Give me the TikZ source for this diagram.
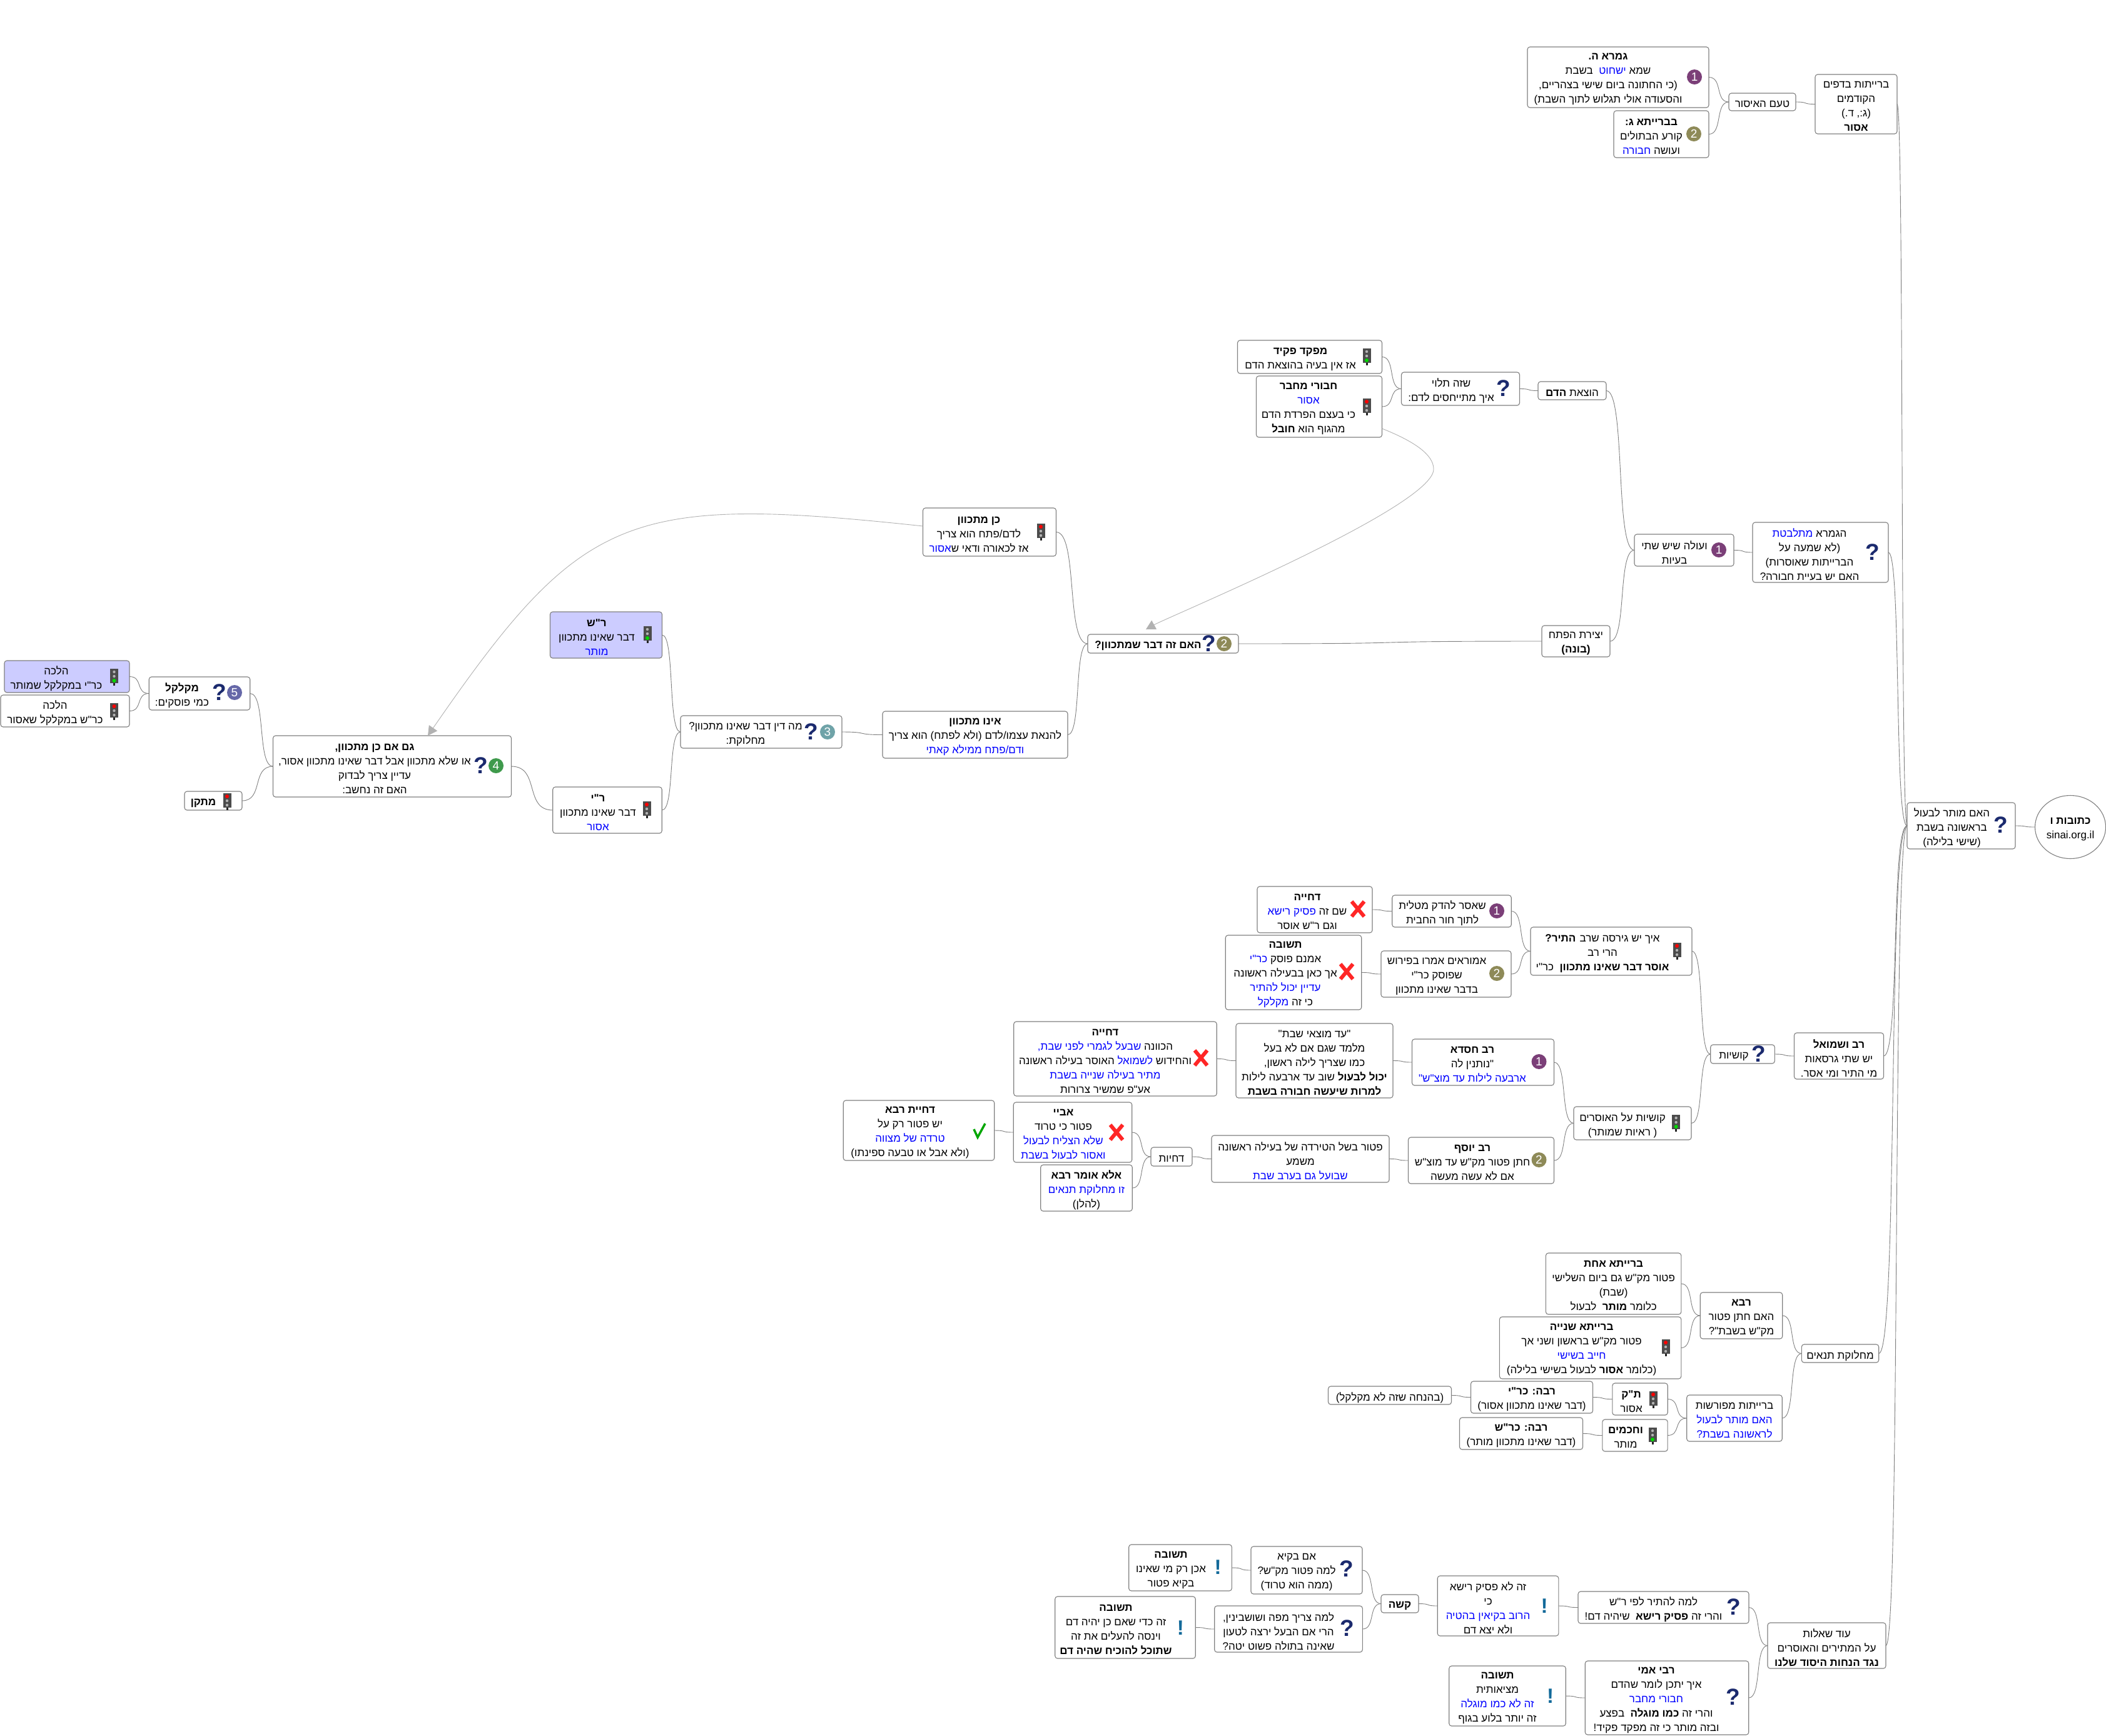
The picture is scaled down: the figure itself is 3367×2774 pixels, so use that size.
\documentclass[tikz,border=0pt]{standalone}
\usepackage{fontspec}
\usepackage{xcolor}
\setmainfont{Liberation Sans}
\newfontfamily\hebfont[Script=Hebrew]{Liberation Sans}
\TeXXeTstate=1
\usetikzlibrary{calc,positioning,shapes.geometric}
\usetikzlibrary{arrows.meta}
\newcommand{\rl}[1]{{\hebfont\beginR #1\endR}}
\newcommand{\rlb}[1]{{\bfseries\hebfont\beginR #1\endR}}
\newcommand{\rlc}[1]{\textcolor{blue}{\rl{#1}}}
\definecolor{discone}{HTML}{7B3F78}
\definecolor{disctwo}{HTML}{8E8A58}
\definecolor{discthree}{HTML}{6FA3A8}
\definecolor{discfour}{HTML}{3F9A4C}
\definecolor{discfive}{HTML}{6668A8}
\definecolor{signblue}{HTML}{1B2A6E}
\definecolor{halfill}{HTML}{CCCCFF}
\begin{document}
\begin{tikzpicture}[
        x=1pt, y=-1pt,
        mapbox/.style 2 args={rectangle, rounded corners=4pt, draw=black!50, line width=1.1pt, fill=white,
            minimum width=#1, minimum height=#2, inner sep=0pt, outer sep=0pt},
        maptext/.style={inner sep=0pt, align=center, yshift=-3.5, font=\fontsize{17}{23}\selectfont},
        rootbox/.style={ellipse, draw=black!50, line width=1.1pt, minimum width=113, minimum height=101,
            inner sep=0pt, outer sep=0pt},
        numdisc/.style={circle, fill=#1, minimum size=24, inner sep=0pt, text=white, font=\fontsize{19}{19}\selectfont},
        asksign/.style={inner sep=0pt, text=signblue, font=\fontsize{37}{37}\bfseries\selectfont},
        saysign/.style={inner sep=0pt, text=signblue!70!cyan, font=\fontsize{33}{33}\bfseries\selectfont},
        link/.style={black!50, line width=0.9pt, to path={let \p1=(\tikztostart), \p2=(\tikztotarget),
            \n1={0.7*(\x2-\x1)} in .. controls ({\x1+\n1},\y1) and ({\x2-\n1},\y2) .. (\p2) \tikztonodes}},
        crosslink/.style={black!30, line width=0.9pt, -{Triangle[length=15pt,width=16pt]}},
        lightred/.pic={
            \fill[black!70] (-6.5,-12) rectangle (6.5,11);
            \fill[black!85] (-1.5,11) rectangle (1.5,15);
            \fill[red] (0,-7) circle (3);
            \fill[black!30] (0,0) circle (2.2);
            \fill[black!30] (0,7) circle (2.2);
        },
        lightgreen/.pic={
            \fill[black!70] (-6.5,-12) rectangle (6.5,11);
            \fill[black!85] (-1.5,11) rectangle (1.5,15);
            \fill[black!30] (0,-7) circle (2.2);
            \fill[black!30] (0,0) circle (2.2);
            \fill[green!85!black] (0,7) circle (3);
        },
        wrongmark/.pic={
            \draw[red!85!white, line width=6pt] (-10,-12) -- (10,12);
            \draw[red!85!white, line width=6pt] (10,-12) -- (-10,12);
        },
        rightmark/.pic={
            \draw[green!65!black, line width=3.5pt] (-9,-2) -- (-3,11) -- (9,-11);
        }
    ]
    \useasboundingbox (0,0) rectangle (3367,2774);

    \node (root) [rootbox] at (3310,1322) {};
    \node (roottext) [maptext] at (root) {\rlb{כתובות ו}\\ sinai.org.il};
    \node (hamutar) [mapbox={173}{74}] at (3135.5,1320) {};
    \node (hamutartext) [maptext, xshift=-15] at (hamutar) {\rl{האם מותר לבעול}\\ \rl{בראשונה בשבת}\\ \rl{(שישי בלילה)}};
    \node (hamutarsign) [asksign] at (3199,1319) {?};

    \node (gemara) [mapbox={290}{97}] at (2587,123.5) {};
    \node (gemaratext) [maptext, xshift=-16] at (gemara) {\rlb{גמרא ה.}\\ \rl{בשבת}\ \ \rlc{ישחוט} \rl{שמא}\\ \rl{(כי החתונה ביום שישי בצהריים,}\\ \rl{והסעודה אולי תגלוש לתוך השבת)}};
    \node (gemaradisc) [numdisc=discone] at (2709,123) {1};
    \node (braitag) [mapbox={152}{75}] at (2656,214.5) {};
    \node (braitagtext) [maptext, xshift=-16] at (braitag) {\rlb{בברייתא ג:}\\ \rl{קורע הבתולים}\\ \rlc{חבורה} \rl{ועושה}};
    \node (braitagdisc) [numdisc=disctwo] at (2708,214) {2};
    \node (taam) [mapbox={107}{28}] at (2817.5,163) {};
    \node (taamtext) [maptext] at (taam) {\rl{טעם האיסור}};
    \node (braitot) [mapbox={131}{95}] at (2967.5,166.5) {};
    \node (braitottext) [maptext] at (braitot) {\rl{ברייתות בדפים}\\ \rl{הקודמים}\\ \rl{(ג:, ד.)}\\ \rlb{אסור}};

    \node (mafked) [mapbox={231}{53}] at (2094,570.5) {};
    \node (mafkedtext) [maptext, xshift=-15] at (mafked) {\rlb{מפקד פקיד}\\ \rl{אז אין בעיה בהוצאת הדם}};
    \pic at (2185,569) {lightgreen};
    \node (chavurei) [mapbox={201}{98}] at (2109,650) {};
    \node (chavureitext) [maptext, xshift=-17] at (chavurei) {\rlb{חבורי מחבר}\\ \rlc{אסור}\\ \rl{כי בעצם הפרדת הדם}\\ \rlb{חובל} \rl{מהגוף הוא}};
    \pic at (2185,649) {lightred};
    \coordinate (chavureiout) at (2209.5,685);
    \node (sheze) [mapbox={189}{53}] at (2335,621.5) {};
    \node (shezetext) [maptext, xshift=-15] at (sheze) {\rl{שזה תלוי}\\ \rl{איך מתייחסים לדם:}};
    \node (shezesign) [asksign] at (2404,621) {?};
    \node (hotzaat) [mapbox={109}{29}] at (2513.5,624.5) {};
    \node (hotzaattext) [maptext] at (hotzaat) {\rlb{הדם} \rl{הוצאת}};
    \node (yetzirat) [mapbox={109}{50}] at (2519.5,1025) {};
    \node (yetzirattext) [maptext] at (yetzirat) {\rl{יצירת הפתח}\\ \rlb{(בונה)}};
    \node (veola) [mapbox={159}{51}] at (2692.5,879.5) {};
    \node (veolatext) [maptext, xshift=-15.5] at (veola) {\rl{ועולה שיש שתי}\\ \rl{בעיות}};
    \node (veoladisc) [numdisc=discone] at (2748,879) {1};
    \node (mitlabetet) [mapbox={217}{96}] at (2910.5,883) {};
    \node (mitlabetettext) [maptext, xshift=-17.5] at (mitlabetet) {\rlc{מתלבטת} \rl{הגמרא}\\ \rl{(לא שמעה על}\\ \rl{הברייתות שאוסרות)}\\ \rl{האם יש בעיית חבורה?}};
    \node (mitlabetetsign) [asksign] at (2994,883) {?};

    \node (haim) [mapbox={241}{30}] at (1859.5,1029) {};
    \node (haimtext) [maptext, xshift=-24] at (haim) {\rlb{האם זה דבר שמתכוון?}};
    \node (haimsign) [asksign] at (1933,1029) {?};
    \node (haimdisc) [numdisc=disctwo] at (1957,1029) {2};
    \coordinate (haimin) at (1832,1006);
    \node (ken) [mapbox={213}{77}] at (1582,850.5) {};
    \node (kentext) [maptext, xshift=-17] at (ken) {\rlb{כן מתכוון}\\ \rl{לדם/פתח הוא צריך}\\ \rlc{אסור}\rl{אז לכאורה ודאי ש}};
    \pic at (1664,849) {lightred};
    \coordinate (kenout) at (1475.5,841);
    \node (eino) [mapbox={296}{75}] at (1559,1174.5) {};
    \node (einotext) [maptext] at (eino) {\rlb{אינו מתכוון}\\ \rl{להנאת עצמו/לדם (ולא לפתח) הוא צריך}\\ \rlc{ודם/פתח ממילא קאתי}};
    \node (mahdin) [mapbox={258}{52}] at (1217,1170) {};
    \node (mahdintext) [maptext, xshift=-25] at (mahdin) {\rl{מה דין דבר שאינו מתכוון?}\\ \rl{מחלוקת:}};
    \node (mahdinsign) [asksign] at (1297,1170) {?};
    \node (mahdindisc) [numdisc=discthree] at (1323,1170) {3};
    \node (rash) [mapbox={179}{74}, fill=halfill] at (969,1015) {};
    \node (rashtext) [maptext, xshift=-15] at (rash) {\rlb{ר"ש}\\ \rl{דבר שאינו מתכוון}\\ \rlc{מותר}};
    \pic at (1035,1013) {lightgreen};
    \node (rii) [mapbox={174.5}{74}] at (971,1295) {};
    \node (riitext) [maptext, xshift=-15] at (rii) {\rlb{ר"י}\\ \rl{דבר שאינו מתכוון}\\ \rlc{אסור}};
    \pic at (1034,1293) {lightred};
    \node (gam) [mapbox={381}{98}] at (627,1225) {};
    \node (gamtext) [maptext, xshift=-28] at (gam) {\rlb{גם אם כן מתכוון,}\\ \rl{או שלא מתכוון אבל דבר שאינו מתכוון אסור,}\\ \rl{עדיין צריך לבדוק}\\ \rl{האם זה נחשב:}};
    \node (gamsign) [asksign] at (769,1224) {?};
    \node (gamdisc) [numdisc=discfour] at (793,1224) {4};
    \coordinate (gamin) at (684,1176);
    \node (mekalkel) [mapbox={161.5}{53}] at (319,1108.5) {};
    \node (mekalkeltext) [maptext, xshift=-28] at (mekalkel) {\rlb{מקלקל}\\ \rl{כמי פוסקים:}};
    \node (mekalkelsign) [asksign] at (351,1107) {?};
    \node (mekalkeldisc) [numdisc=discfive] at (375,1107) {5};
    \node (mitkan) [mapbox={92}{30}] at (341,1280) {};
    \node (mitkantext) [maptext, xshift=-16] at (mitkan) {\rlb{מתקן}};
    \pic at (363,1280) {lightred};
    \node (halachaa) [mapbox={200}{51}, fill=halfill] at (107,1081.5) {};
    \node (halachaatext) [maptext, xshift=-17] at (halachaa) {\rl{הלכה}\\ \rl{כר"י במקלקל שמותר}};
    \pic at (182.5,1081) {lightgreen};
    \node (halachab) [mapbox={206}{51}] at (104,1136.5) {};
    \node (halachabtext) [maptext, xshift=-16] at (halachab) {\rl{הלכה}\\ \rl{כר"ש במקלקל שאסור}};
    \pic at (182.5,1136) {lightred};

    \node (dachyaa) [mapbox={184}{74}] at (2102,1454) {};
    \node (dachyaatext) [maptext, xshift=-12] at (dachyaa) {\rlb{דחייה}\\ \rlc{פסיק רישא} \rl{שם זה}\\ \rl{וגם ר"ש אוסר}};
    \pic at (2171,1453) {wrongmark};
    \node (teshuvaa) [mapbox={217.5}{119}] at (2068,1554.5) {};
    \node (teshuvaatext) [maptext, xshift=-13] at (teshuvaa) {\rlb{תשובה}\\ \rlc{כר"י} \rl{אמנם פוסק}\\ \rl{אך כאן בבעילה ראשונה}\\ \rlc{עדיין יכול להתיר}\\ \rlc{מקלקל} \rl{כי זה}};
    \pic at (2153,1553) {wrongmark};
    \node (sheasar) [mapbox={190.5}{51}] at (2321,1456.5) {};
    \node (sheasartext) [maptext, xshift=-15] at (sheasar) {\rl{שאסר להדק מטלית}\\ \rl{לתוך חור החבית}};
    \node (sheasardisc) [numdisc=discone] at (2393,1456) {1};
    \node (amoraim) [mapbox={208}{74}] at (2312,1557) {};
    \node (amoraimtext) [maptext, xshift=-15] at (amoraim) {\rl{אמוראים אמרו בפירוש}\\ \rl{שפוסק כר"י}\\ \rl{בדבר שאינו מתכוון}};
    \node (amoraimdisc) [numdisc=disctwo] at (2393,1556) {2};
    \node (eich) [mapbox={258}{77}] at (2576,1520.5) {};
    \node (eichtext) [maptext, xshift=-14] at (eich) {\rlb{התיר?} \rl{איך יש גירסה שרב}\\ \rl{הרי רב}\\ \rl{כר"י}\ \ \rlb{אוסר דבר שאינו מתכוון}};
    \pic at (2681,1519) {lightred};
    \node (kushiotal) [mapbox={188}{53}] at (2610,1795.5) {};
    \node (kushiotaltext) [maptext, xshift=-16] at (kushiotal) {\rl{קושיות על האוסרים}\\ \rl{( ראיות שמותר)}};
    \pic at (2679.6,1794) {lightgreen};
    \node (kushiot) [mapbox={102.6}{30}] at (2786,1685) {};
    \node (kushiottext) [maptext, xshift=-14] at (kushiot) {\rl{קושיות}};
    \node (kushiotsign) [asksign] at (2812,1685) {?};
    \node (rav) [mapbox={143}{74}] at (2940,1688) {};
    \node (ravtext) [maptext] at (rav) {\rlb{רב ושמואל}\\ \rl{יש שתי גרסאות}\\ \rl{מי התיר ומי אסר.}};

    \node (dachyab) [mapbox={324.5}{119}] at (1783,1692.5) {};
    \node (dachyabtext) [maptext, xshift=-16] at (dachyab) {\rlb{דחייה}\\ \rlc{שבעל לגמרי לפני שבת,} \rl{הכוונה}\\ \rl{האוסר בעילה ראשונה} \rlc{לשמואל} \rl{והחידוש}\\ \rlc{מתיר בעילה שנייה בשבת}\\ \rl{אע"פ שמשיר צרורות}};
    \pic at (1920,1691) {wrongmark};
    \node (ad) [mapbox={251}{119}] at (2101.5,1695.5) {};
    \node (adtext) [maptext] at (ad) {\rl{"עד מוצאי שבת"}\\ \rl{מלמד שגם אם לא בעל}\\ \rl{כמו שצריך לילה ראשון,}\\ \rl{שוב עד ארבעה לילות} \rlb{יכול לבעול}\\ \rlb{למרות שיעשה חבורה בשבת}};
    \node (rabhisda) [mapbox={227}{74}] at (2371,1698) {};
    \node (rabhisdatext) [maptext, xshift=-17] at (rabhisda) {\rlb{רב חסדא}\\ \rl{"נותנין לה}\\ \rlc{ארבעה לילות עד מוצ"ש"}};
    \node (rabhisdadisc) [numdisc=discone] at (2460.5,1697) {1};
    \node (rabyosef) [mapbox={233}{74}] at (2368,1855) {};
    \node (rabyoseftext) [maptext, xshift=-14] at (rabyosef) {\rlb{רב יוסף}\\ \rl{חתן פטור מק"ש עד מוצ"ש}\\ \rl{אם לא עשה מעשה}};
    \node (rabyosefdisc) [numdisc=disctwo] at (2460.5,1854) {2};
    \node (patur) [mapbox={284}{75}] at (2079,1852.5) {};
    \node (paturtext) [maptext] at (patur) {\rl{פטור בשל הטירדה של בעילה ראשונה}\\ \rl{משמע}\\ \rlc{שבועל גם בערב שבת}};
    \node (dchiyot) [mapbox={66}{30}] at (1873,1849) {};
    \node (dchiyottext) [maptext] at (dchiyot) {\rl{דחיות}};
    \node (abaye) [mapbox={189.5}{96}] at (1715,1810) {};
    \node (abayetext) [maptext, xshift=-15] at (abaye) {\rlb{אביי}\\ \rl{פטור כי טרוד}\\ \rlc{שלא הצליח לבעול}\\ \rlc{ואסור לבעול בשבת}};
    \pic at (1785,1810) {wrongmark};
    \node (ela) [mapbox={146.5}{74}] at (1737,1899) {};
    \node (elatext) [maptext] at (ela) {\rlb{אלא אומר רבא}\\ \rlc{זו מחלוקת תנאים}\\ \rl{(להלן)}};
    \node (dachyatraba) [mapbox={241.5}{96}] at (1469,1807) {};
    \node (dachyatrabatext) [maptext, xshift=-14] at (dachyatraba) {\rlb{דחיית רבא}\\ \rl{יש פטור רק על}\\ \rlc{טרדה של מצווה}\\ \rl{(ולא אבל או טבעה ספינתו)}};
    \pic at (1566,1807) {rightmark};

    \node (baraitaa) [mapbox={216.4}{98}] at (2579.6,2052) {};
    \node (baraitaatext) [maptext] at (baraitaa) {\rlb{ברייתא אחת}\\ \rl{פטור מק"ש גם ביום השלישי}\\ \rl{(שבת)}\\ \rl{לבעול}\ \ \rlb{מותר} \rl{כלומר}};
    \node (baraitab) [mapbox={290.4}{99}] at (2542.6,2154.5) {};
    \node (baraitabtext) [maptext, xshift=-14] at (baraitab) {\rlb{ברייתא שנייה}\\ \rl{פטור מק"ש בראשון ושני אך}\\ \rlc{חייב בשישי}\\ \rl{לבעול בשישי בלילה)} \rlb{אסור} \rl{(כלומר}};
    \pic at (2663,2153) {lightred};
    \node (raba) [mapbox={131.5}{74}] at (2784,2103) {};
    \node (rabatext) [maptext] at (raba) {\rlb{רבא}\\ \rl{האם חתן פטור}\\ \rl{מק"ש בשבת"?}};
    \node (machloket) [mapbox={123.4}{29}] at (2942,2163.5) {};
    \node (machlokettext) [maptext] at (machloket) {\rl{מחלוקת תנאים}};
    \node (mefurashot) [mapbox={152.5}{74}] at (2773,2267) {};
    \node (mefurashottext) [maptext] at (mefurashot) {\rl{ברייתות מפורשות}\\ \rlc{האם מותר לבעול}\\ \rlc{לראשונה בשבת?}};
    \node (tanakama) [mapbox={88.4}{51}] at (2622,2236.5) {};
    \node (tanakamatext) [maptext, xshift=-14] at (tanakama) {\rlb{ת"ק}\\ \rl{אסור}};
    \pic at (2643,2236) {lightred};
    \node (chachamim) [mapbox={104.3}{51}] at (2614,2294.5) {};
    \node (chachamimtext) [maptext, xshift=-15] at (chachamim) {\rlb{וחכמים}\\ \rl{מותר}};
    \pic at (2642,2294) {lightgreen};
    \node (rabakri) [mapbox={195}{51}] at (2449,2233.5) {};
    \node (rabakritext) [maptext] at (rabakri) {\rlb{רבה: כר"י}\\ \rl{(דבר שאינו מתכוון אסור)}};
    \node (rabakrs) [mapbox={197}{51}] at (2432,2291.5) {};
    \node (rabakrstext) [maptext] at (rabakrs) {\rlb{רבה: כר"ש}\\ \rl{(דבר שאינו מתכוון מותר)}};
    \node (behanacha) [mapbox={197}{29}] at (2222,2230.5) {};
    \node (behanachatext) [maptext] at (behanacha) {\rl{(בהנחה שזה לא מקלקל)}};

    \node (teshuvab) [mapbox={164.6}{74}] at (1887,2506) {};
    \node (teshuvabtext) [maptext, xshift=-15] at (teshuvab) {\rlb{תשובה}\\ \rl{אכן רק מי שאינו}\\ \rl{בקיא פטור}};
    \node (teshuvabsign) [saysign] at (1947,2505) {!};
    \node (imbaki) [mapbox={178}{76}] at (2089,2510) {};
    \node (imbakitext) [maptext, xshift=-16] at (imbaki) {\rl{אם בקיא}\\ \rl{למה פטור מק"ש?}\\ \rl{(ממה הוא טרוד)}};
    \node (imbakisign) [asksign] at (2153,2508) {?};
    \node (teshuvac) [mapbox={224.5}{99}] at (1799,2601.5) {};
    \node (teshuvactext) [maptext, xshift=-15] at (teshuvac) {\rlb{תשובה}\\ \rl{זה כדי שאם כן יהיה דם}\\ \rl{וינסה להעלים את זה}\\ \rlb{שתוכל להוכיח שהיה דם}};
    \node (teshuvacsign) [saysign] at (1887.4,2602) {!};
    \node (lama) [mapbox={236.6}{74}] at (2060,2604) {};
    \node (lamatext) [maptext, xshift=-16] at (lama) {\rl{למה צריך מפה ושושבינין,}\\ \rl{הרי אם הבעל ירצה לטעון}\\ \rl{שאינה בתולה פשוט יטה?}};
    \node (lamasign) [asksign] at (2153.5,2603) {?};
    \node (kashe) [mapbox={60}{29}] at (2238,2563.5) {};
    \node (kashetext) [maptext] at (kashe) {\rlb{קשה}};
    \node (zeh) [mapbox={193.6}{96}] at (2395,2567) {};
    \node (zehtext) [maptext, xshift=-16] at (zeh) {\rl{זה לא פסיק רישא}\\ \rl{כי}\\ \rlc{הרוב בקיאין בהטיה}\\ \rl{ולא יצא דם}};
    \node (zehsign) [saysign] at (2469,2567) {!};
    \node (lehatir) [mapbox={273}{51}] at (2659.5,2569.5) {};
    \node (lehatirtext) [maptext, xshift=-16] at (lehatir) {\rl{למה להתיר לפי ר"ש}\\ \rl{שיהיה דם!}\ \ \rlb{פסיק רישא} \rl{והרי זה}};
    \node (lehatirsign) [asksign] at (2772,2569) {?};
    \node (od) [mapbox={189}{73}] at (2920.5,2630.5) {};
    \node (odtext) [maptext] at (od) {\rl{עוד שאלות}\\ \rl{על המתירים והאוסרים}\\ \rlb{נגד הנחות היסוד שלנו}};
    \node (teshuvad) [mapbox={186.5}{96}] at (2410,2711) {};
    \node (teshuvadtext) [maptext, xshift=-16] at (teshuvad) {\rlb{תשובה}\\ \rl{מציאותית}\\ \rlc{זה לא כמו מוגלה}\\ \rl{זה יותר בלוע בגוף}};
    \node (teshuvadsign) [saysign] at (2478.7,2711) {!};
    \node (ribi) [mapbox={261.5}{118}] at (2665,2714) {};
    \node (ribitext) [maptext, xshift=-17] at (ribi) {\rlb{רבי אמי}\\ \rl{איך יתכן לומר שהדם}\\ \rlc{חבורי מחבר}\\ \rl{בפצע}\ \ \rlb{כמו מוגלה} \rl{והרי זה}\\ \rl{ובזה מותר כי זה מפקד פקיד!}};
    \node (ribisign) [asksign] at (2770.5,2713) {?};

    \draw[link] (hamutar.east) to (root.west);
    \draw[link] (gemara.east) to (taam.west);
    \draw[link] (braitag.east) to (taam.west);
    \draw[link] (taam.east) to (braitot.west);
    \draw[link] (braitot.east) to (hamutar.west);
    \draw[link] (mafked.east) to (sheze.west);
    \draw[link] (chavurei.east) to (sheze.west);
    \draw[link] (sheze.east) to (hotzaat.west);
    \draw[link] (hotzaat.east) to (veola.west);
    \draw[link] (yetzirat.east) to (veola.west);
    \draw[link] (haim.east) to (yetzirat.west);
    \draw[link] (veola.east) to (mitlabetet.west);
    \draw[link] (mitlabetet.east) to (hamutar.west);
    \draw[link] (ken.east) to (haim.west);
    \draw[link] (eino.east) to (haim.west);
    \draw[link] (mahdin.east) to (eino.west);
    \draw[link] (rash.east) to (mahdin.west);
    \draw[link] (rii.east) to (mahdin.west);
    \draw[link] (gam.east) to (rii.west);
    \draw[link] (mekalkel.east) to (gam.west);
    \draw[link] (mitkan.east) to (gam.west);
    \draw[link] (halachaa.east) to (mekalkel.west);
    \draw[link] (halachab.east) to (mekalkel.west);
    \draw[link] (dachyaa.east) to (sheasar.west);
    \draw[link] (teshuvaa.east) to (amoraim.west);
    \draw[link] (sheasar.east) to (eich.west);
    \draw[link] (amoraim.east) to (eich.west);
    \draw[link] (eich.east) to (kushiot.west);
    \draw[link] (kushiotal.east) to (kushiot.west);
    \draw[link] (kushiot.east) to (rav.west);
    \draw[link] (rav.east) to (hamutar.west);
    \draw[link] (dachyab.east) to (ad.west);
    \draw[link] (ad.east) to (rabhisda.west);
    \draw[link] (rabhisda.east) to (kushiotal.west);
    \draw[link] (rabyosef.east) to (kushiotal.west);
    \draw[link] (patur.east) to (rabyosef.west);
    \draw[link] (dchiyot.east) to (patur.west);
    \draw[link] (abaye.east) to (dchiyot.west);
    \draw[link] (ela.east) to (dchiyot.west);
    \draw[link] (dachyatraba.east) to (abaye.west);
    \draw[link] (baraitaa.east) to (raba.west);
    \draw[link] (baraitab.east) to (raba.west);
    \draw[link] (raba.east) to (machloket.west);
    \draw[link] (mefurashot.east) to (machloket.west);
    \draw[link] (machloket.east) to (hamutar.west);
    \draw[link] (tanakama.east) to (mefurashot.west);
    \draw[link] (chachamim.east) to (mefurashot.west);
    \draw[link] (rabakri.east) to (tanakama.west);
    \draw[link] (rabakrs.east) to (chachamim.west);
    \draw[link] (behanacha.east) to (rabakri.west);
    \draw[link] (teshuvab.east) to (imbaki.west);
    \draw[link] (teshuvac.east) to (lama.west);
    \draw[link] (imbaki.east) to (kashe.west);
    \draw[link] (lama.east) to (kashe.west);
    \draw[link] (kashe.east) to (zeh.west);
    \draw[link] (zeh.east) to (lehatir.west);
    \draw[link] (lehatir.east) to (od.west);
    \draw[link] (teshuvad.east) to (ribi.west);
    \draw[link] (ribi.east) to (od.west);
    \draw[link] (od.east) to (hamutar.west);

    \draw[crosslink] (chavureiout) .. controls (2262,706) and (2292,727) .. (2292,750) .. controls (2292,810) and (1870,985) .. (haimin);
    \draw[crosslink] (kenout) .. controls (1000,790) and (930,820) .. (gamin);
\end{tikzpicture}
\end{document}
